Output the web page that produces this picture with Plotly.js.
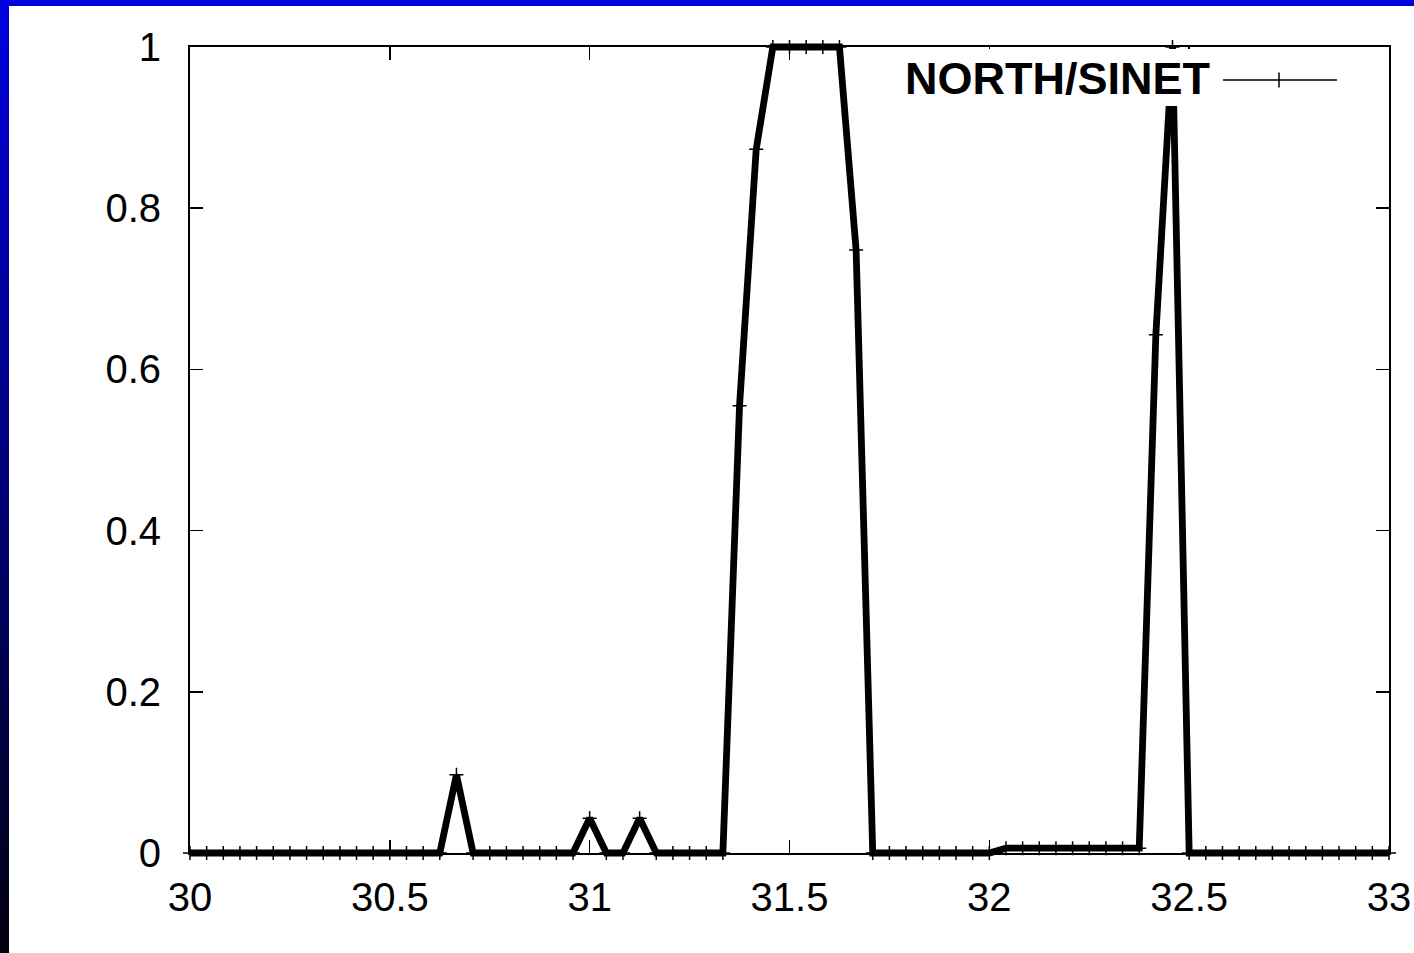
<!DOCTYPE html>
<html>
<head>
<meta charset="utf-8">
<script src="https://cdn.plot.ly/plotly-3.0.1.min.js"></script>
<style>
  html, body { margin: 0; padding: 0; }
  body { width: 1414px; height: 953px; overflow: hidden; position: relative;
         background: linear-gradient(to bottom, #0000e0 0%, #000010 100%); }
  #paper { position: absolute; left: 9px; top: 6px; width: 1405px; height: 947px; background: #ffffff; }
  #chart { position: absolute; left: 0; top: 0; width: 1414px; height: 953px; }
</style>
</head>
<body>
<div id="paper"></div>
<div id="chart"></div>
<script>
// ---- data (x in days, hourly samples) ----
const seriesName = "NORTH/SINET";
const hours = [];
for (let k = 0; k <= 72; k++) hours.push(k);
const xValues = hours.map(k => 30 + k / 24);
const yValues = [
  0, 0, 0, 0, 0, 0, 0, 0, 0, 0, 0, 0, 0, 0, 0, 0,      // k 0-15
  0.097,                                              // k 16
  0, 0, 0, 0, 0, 0, 0,                                // k 17-23
  0.043, 0, 0, 0.043,                                 // k 24-27
  0, 0, 0, 0, 0,                                      // k 28-32
  0.555, 0.873, 1, 1, 1, 1, 1, 0.748,                 // k 33-40
  0, 0, 0, 0, 0, 0, 0, 0,                             // k 41-48
  0.006, 0.006, 0.006, 0.006, 0.006, 0.006, 0.006, 0.006, 0.006, // k 49-57
  0.643, 1,                                           // k 58-59
  0, 0, 0, 0, 0, 0, 0, 0, 0, 0, 0, 0, 0               // k 60-72
];
const xTickVals = [30, 30.5, 31, 31.5, 32, 32.5, 33];
const xTickText = ["30", "30.5", "31", "31.5", "32", "32.5", "33"];
const yTickVals = [0, 0.2, 0.4, 0.6, 0.8, 1];
const yTickText = ["0", "0.2", "0.4", "0.6", "0.8", "1"];

// ---- layout geometry (pixels) ----
const W = 1414, H = 953;
const L = 190, R = 1389, T = 47, B = 853;
const pad = 12;
const pxX = (R - L) / 3, pxY = (B - T) / 1;
const px = v => v / W;
const py = v => 1 - v / H;

const tickFont = { family: "Liberation Sans, Arial, sans-serif", size: 40, color: "#000" };

// empty trace so the framed axes subplot is drawn
const frameTrace = { x: [], y: [], xaxis: "x", yaxis: "y", type: "scatter", mode: "lines",
  showlegend: false, hoverinfo: "skip" };

const trace = {
  x: xValues, y: yValues, xaxis: "x2", yaxis: "y2",
  type: "scatter", mode: "lines+markers", name: seriesName,
  line: { color: "#000", width: 6.8 },
  marker: { symbol: "cross-thin", size: 10, color: "#000", line: { color: "#000", width: 1.5 } },
  cliponaxis: false, hoverinfo: "skip"
};

const layout = {
  width: W, height: H,
  margin: { l: 0, r: 0, t: 0, b: 0, pad: 0 },
  paper_bgcolor: "rgba(0,0,0,0)", plot_bgcolor: "rgba(0,0,0,0)",
  showlegend: false,
  xaxis: {
    domain: [px(L), px(R)], range: [30, 33], anchor: "y",
    showline: true, linecolor: "#000", linewidth: 2, mirror: "ticks",
    ticks: "inside", ticklen: 13, tickwidth: 1.5, tickcolor: "#000",
    tickvals: xTickVals, ticktext: xTickText, tickfont: tickFont,
    ticklabelstandoff: 8,
    showgrid: false, zeroline: false, fixedrange: true
  },
  yaxis: {
    domain: [py(B), py(T)], range: [0, 1], anchor: "x",
    showline: true, linecolor: "#000", linewidth: 2, mirror: "ticks",
    ticks: "inside", ticklen: 13, tickwidth: 1.5, tickcolor: "#000",
    tickvals: yTickVals, ticktext: yTickText, tickfont: tickFont,
    ticklabelstandoff: 19,
    showgrid: false, zeroline: false, fixedrange: true
  },
  xaxis2: {
    domain: [px(L - pad), px(R + pad)], range: [30 - pad / pxX, 33 + pad / pxX],
    anchor: "y2", visible: false, fixedrange: true
  },
  yaxis2: {
    domain: [py(B + pad), py(T - pad)], range: [0 - pad / pxY, 1 + pad / pxY],
    anchor: "x2", visible: false, fixedrange: true
  },
  shapes: [
    // opaque key box
    { type: "rect", xref: "paper", yref: "paper", layer: "above",
      x0: px(895), x1: px(1350), y0: py(106), y1: py(49),
      fillcolor: "#fff", line: { width: 0 } },
    // key sample line
    { type: "line", xref: "paper", yref: "paper", layer: "above",
      x0: px(1223), x1: px(1337), y0: py(80), y1: py(80),
      line: { color: "#000", width: 1.5 } },
    { type: "line", xref: "paper", yref: "paper", layer: "above",
      x0: px(1279), x1: px(1279), y0: py(72.5), y1: py(87.5),
      line: { color: "#000", width: 1.5 } }
  ],
  annotations: [
    { text: seriesName, xref: "paper", yref: "paper", x: px(903), y: py(79),
      xanchor: "left", yanchor: "middle", showarrow: false,
      font: { family: "Liberation Sans, Arial, sans-serif", size: 45, color: "#000", weight: "bold" } }
  ]
};

Plotly.newPlot("chart", [frameTrace, trace], layout, { displayModeBar: false, staticPlot: true });
</script>
</body>
</html>
